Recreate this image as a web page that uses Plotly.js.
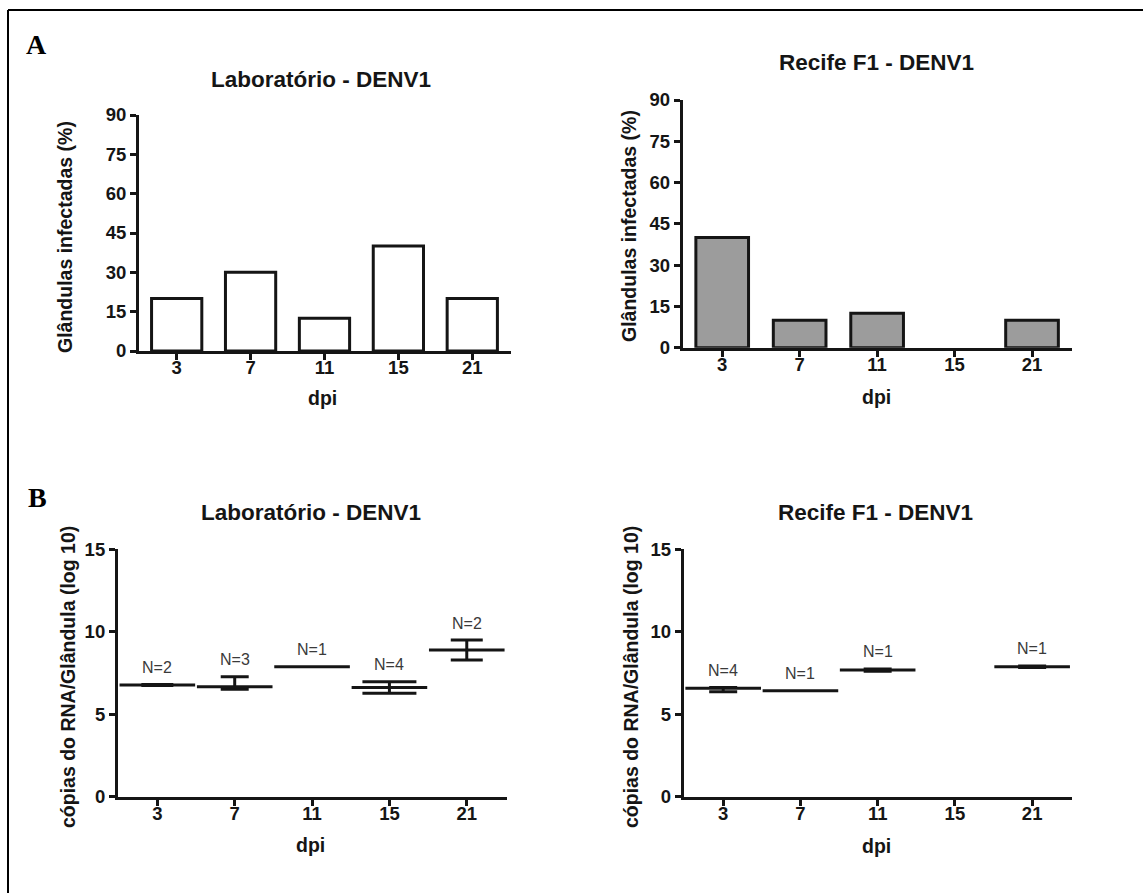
<!DOCTYPE html>
<html>
<head>
<meta charset="utf-8">
<script src="https://cdn.plot.ly/plotly-3.0.1.min.js"></script>
<style>
  html, body { margin: 0; padding: 0; background: #ffffff; }
  #chart { width: 1143px; height: 893px; }
</style>
</head>
<body>
<div id="chart"></div>
<script>
// ---------------- DATA ----------------
const dpiLabels = ['3', '7', '11', '15', '21'];

// Panel A: % infected glands
const labInfected = [20, 30, 12.5, 40, 20];
const recInfected = [40, 10, 12.5, 0, 10];

// Panel B: RNA copies / gland (log10): mean, upper error, lower error, N
const labMean     = [6.77, 6.67, 7.88, 6.62, 8.90];
const labErrUp    = [0.03, 0.61, 0.00, 0.35, 0.60];
const labErrDown  = [0.03, 0.16, 0.00, 0.35, 0.61];
const labN        = [2, 3, 1, 4, 2];

const recMean     = [6.57, 6.43, 7.68, null, 7.88];
const recErrUp    = [0.05, 0.00, 0.07, null, 0.05];
const recErrDown  = [0.20, 0.00, 0.07, null, 0.05];
const recN        = [4, 1, 1, null, 1];

const titleLab = 'Laboratório - DENV1';
const titleRec = 'Recife F1 - DENV1';
const yTitleA = 'Glândulas infectadas (%)';
const yTitleB = 'cópias do RNA/Glândula (log 10)';
const xTitle = 'dpi';

// ---------------- STYLE ----------------
const W = 1143, H = 893;
const px = v => v / W;
const py = v => 1 - v / H;
const FONT = 'Liberation Sans, Arial, Helvetica, sans-serif';
const INK = '#151515';
const capHalfLab = [16, 14, 0, 27, 16];
const capHalfRec = [14, 0, 14, 0, 14];

function xAxis(x0, x1, anchor) {
  return {
    domain: [px(x0), px(x1)], anchor: anchor,
    type: 'category', categoryorder: 'array', categoryarray: dpiLabels,
    range: [-0.51, 4.52], showgrid: false, zeroline: false,
    showline: true, linewidth: 3, linecolor: INK,
    ticks: 'outside', ticklen: 6, tickwidth: 3, tickcolor: INK,
    ticklabelstandoff: -8,
    tickfont: { family: FONT, size: 18.5, color: INK, weight: 'bold' },
    fixedrange: true
  };
}
function yAxis(yTop, yBot, anchor, range, tickvals) {
  return {
    domain: [py(yBot), py(yTop)], anchor: anchor,
    range: range, tickvals: tickvals, showgrid: false, zeroline: false,
    showline: true, linewidth: 3, linecolor: INK,
    ticks: 'outside', ticklen: 6, tickwidth: 3, tickcolor: INK,
    tickfont: { family: FONT, size: 18.5, color: INK, weight: 'bold' },
    fixedrange: true
  };
}

const traces = [];
traces.push({
  type: 'bar', x: dpiLabels, y: labInfected, xaxis: 'x', yaxis: 'y',
  marker: { color: '#ffffff', line: { color: INK, width: 3 } }, width: 0.68
});
traces.push({
  type: 'bar', x: dpiLabels, y: recInfected.map(v => (v === 0 ? null : v)), xaxis: 'x2', yaxis: 'y2',
  marker: { color: '#9c9c9c', line: { color: INK, width: 3 } }, width: 0.68
});

function meanTraces(mean, up, down, caps, xa, ya) {
  mean.forEach((m, i) => {
    if (m === null) return;
    traces.push({
      type: 'scatter', mode: 'markers', x: [dpiLabels[i]], y: [m],
      xaxis: xa, yaxis: ya, cliponaxis: false,
      marker: { symbol: 'line-ew', size: 54, color: INK, line: { color: INK, width: 3 } },
      error_y: { type: 'data', symmetric: false, array: [up[i]], arrayminus: [down[i]],
                 color: INK, thickness: 3, width: caps[i], visible: true }
    });
  });
}
meanTraces(labMean, labErrUp, labErrDown, capHalfLab, 'x3', 'y3');
meanTraces(recMean, recErrUp, recErrDown, capHalfRec, 'x4', 'y4');

const annotations = [];
function txt(text, x, y, size, opts) {
  annotations.push(Object.assign({
    text: text, x: px(x), y: py(y), xref: 'paper', yref: 'paper',
    xanchor: 'center', yanchor: 'middle', showarrow: false,
    font: { family: FONT, size: size, color: INK, weight: 'bold' }
  }, opts || {}));
}
// panel letters
txt('A', 36, 45, 28, { font: { family: 'Liberation Serif, Times New Roman, serif', size: 28, color: '#000', weight: 'bold' } });
txt('B', 37, 497, 28, { font: { family: 'Liberation Serif, Times New Roman, serif', size: 28, color: '#000', weight: 'bold' } });
// subplot titles
txt(titleLab, 321, 80, 22.5);
txt(titleRec, 876, 62, 22.5);
txt(titleLab, 311, 512, 22.5);
txt(titleRec, 875, 512, 22.5);
// axis titles
txt(yTitleA, 65, 237, 19.5, { textangle: -90 });
txt(yTitleA, 629, 226, 19.5, { textangle: -90 });
txt(yTitleB, 68, 677, 19.5, { textangle: -90 });
txt(yTitleB, 631, 677, 19.5, { textangle: -90 });
txt(xTitle, 323, 398, 19.5);
txt(xTitle, 876, 397, 19.5);
txt(xTitle, 311, 845, 19.5);
txt(xTitle, 876, 846, 19.5);

// N labels (x given as category index)
function nLabels(mean, up, ns, xa, ya) {
  mean.forEach((m, i) => {
    if (m === null) return;
    annotations.push({
      text: 'N=' + ns[i], x: i, y: m + up[i], xref: xa, yref: ya,
      yshift: 17, xanchor: 'center', yanchor: 'middle', showarrow: false,
      font: { family: FONT, size: 16, color: '#3a3a3a' }
    });
  });
}
nLabels(labMean, labErrUp, labN, 'x3', 'y3');
nLabels(recMean, recErrUp, recN, 'x4', 'y4');

const layout = {
  width: W, height: H,
  margin: { l: 0, r: 0, t: 0, b: 0 },
  paper_bgcolor: '#ffffff', plot_bgcolor: 'rgba(0,0,0,0)',
  showlegend: false,
  xaxis:  xAxis(139, 510.7, 'y'),
  yaxis:  yAxis(115, 351, 'x', [0, 90], [0, 15, 30, 45, 60, 75, 90]),
  xaxis2: xAxis(682.7, 1072.3, 'y2'),
  yaxis2: yAxis(100, 347.7, 'x2', [0, 90], [0, 15, 30, 45, 60, 75, 90]),
  xaxis3: xAxis(117.9, 507, 'y3'),
  yaxis3: yAxis(549.3, 796.7, 'x3', [0, 15], [0, 5, 10, 15]),
  xaxis4: xAxis(683.8, 1072.3, 'y4'),
  yaxis4: yAxis(549.3, 796.7, 'x4', [0, 15], [0, 5, 10, 15]),
  annotations: annotations,
  shapes: [
    { type: 'line', xref: 'paper', yref: 'paper', x0: px(8), x1: px(8), y0: 0, y1: py(10),
      line: { color: '#000', width: 2 } },
    { type: 'line', xref: 'paper', yref: 'paper', x0: px(8), x1: 1, y0: py(10), y1: py(10),
      line: { color: '#000', width: 2 } }
  ]
};

Plotly.newPlot('chart', traces, layout, { displayModeBar: false, staticPlot: true });
</script>
</body>
</html>
